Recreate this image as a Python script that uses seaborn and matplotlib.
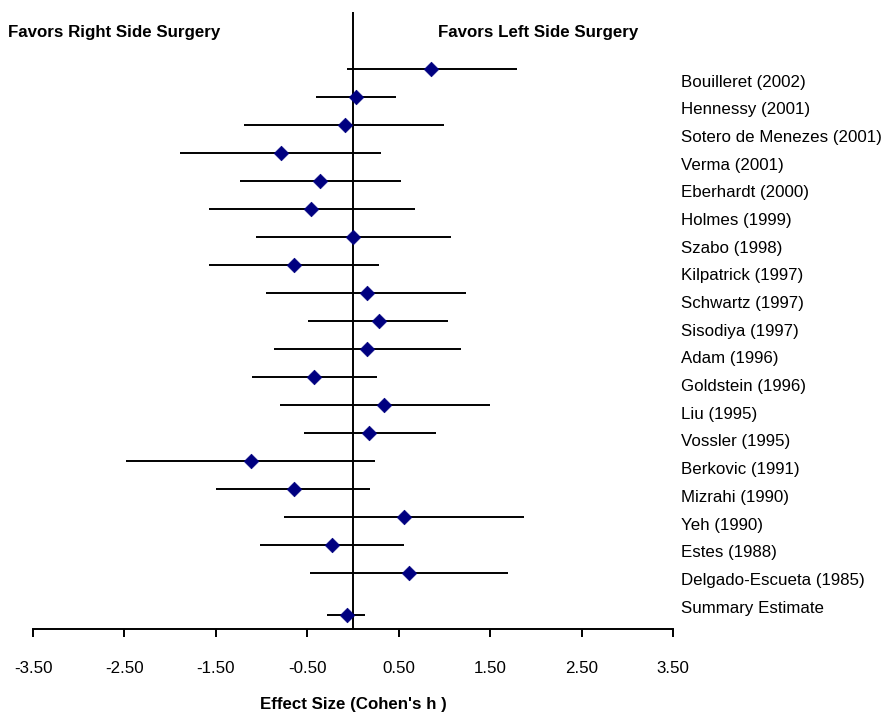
import matplotlib
matplotlib.use("Agg")
import matplotlib.pyplot as plt
import pandas as pd
import seaborn as sns
from matplotlib import font_manager

# values
studies = [
    "Bouilleret (2002)", "Hennessy (2001)", "Sotero de Menezes (2001)",
    "Verma (2001)", "Eberhardt (2000)", "Holmes (1999)", "Szabo (1998)",
    "Kilpatrick (1997)", "Schwartz (1997)", "Sisodiya (1997)", "Adam (1996)",
    "Goldstein (1996)", "Liu (1995)", "Vossler (1995)", "Berkovic (1991)",
    "Mizrahi (1990)", "Yeh (1990)", "Estes (1988)", "Delgado-Escueta (1985)",
]
effect = [0.85, 0.03, -0.09, -0.79, -0.36, -0.46, 0.00, -0.64, 0.15, 0.28,
          0.15, -0.43, 0.34, 0.18, -1.12, -0.64, 0.56, -0.23, 0.61]
ci_low = [-0.07, -0.41, -1.19, -1.89, -1.24, -1.58, -1.06, -1.58, -0.95, -0.49,
          -0.86, -1.10, -0.80, -0.54, -2.48, -1.50, -0.75, -1.02, -0.47]
ci_high = [1.79, 0.47, 1.00, 0.31, 0.52, 0.68, 1.07, 0.28, 1.24, 1.04,
           1.18, 0.26, 1.50, 0.91, 0.24, 0.19, 1.87, 0.56, 1.70]

summary_label = "Summary Estimate"
summary_effect = -0.07
summary_low = -0.28
summary_high = 0.13

x_ticks = [-3.5, -2.5, -1.5, -0.5, 0.5, 1.5, 2.5, 3.5]

# font: narrow sans if available, otherwise a slightly smaller regular one
names = {f.name for f in font_manager.fontManager.ttflist}
if "Liberation Sans Narrow" in names:
    fam = ["Liberation Sans Narrow", "DejaVu Sans"]
    fs = 14
else:
    fam = ["Liberation Sans", "DejaVu Sans"]
    fs = 12.2

sns.set_style("white")
plt.rcParams["font.family"] = fam
plt.rcParams["text.color"] = "black"
plt.rcParams["axes.labelcolor"] = "black"
plt.rcParams["xtick.color"] = "black"
plt.rcParams["ytick.color"] = "black"

df = pd.DataFrame({"study": studies, "effect": effect,
                   "lo": ci_low, "hi": ci_high})
df["row"] = range(len(df))
summary_row = len(df) + 0.5
df = pd.concat([df, pd.DataFrame({"study": [summary_label],
                                  "effect": [summary_effect],
                                  "lo": [summary_low], "hi": [summary_high],
                                  "row": [summary_row]})], ignore_index=True)

fig = plt.figure(figsize=(8.95, 7.14), dpi=100)
ax = fig.add_axes([33 / 895, (714 - 629) / 714, 640 / 895, 617 / 714])

ax.hlines(df["row"], df["lo"], df["hi"], color="black", lw=1.4, zorder=2)
ax.axvline(0, color="black", lw=1.4, zorder=1)
sns.scatterplot(data=df, x="effect", y="row", marker="D", s=55,
                color="#000080", edgecolor="#000080", linewidth=0.5,
                ax=ax, zorder=3, legend=False)

ax.set_xlim(-3.5, 3.5)
ax.set_ylim(20.0, -2.04)
ax.set_xticks(x_ticks)
ax.set_xticklabels([f"{t:.2f}" for t in x_ticks], fontsize=fs)
ax.tick_params(axis="x", direction="out", length=6, width=1.4, pad=17,
               bottom=True, color="black", labelcolor="black")
ax.set_yticks([])
ax.set_ylabel("")
ax.set_xlabel("Effect Size (Cohen's h )", fontsize=fs, fontweight="bold",
              labelpad=15, color="black")
for side in ["left", "top", "right"]:
    ax.spines[side].set_visible(False)
ax.spines["bottom"].set_linewidth(1.4)
ax.spines["bottom"].set_color("black")

# study names on the right, evenly spaced
ax2 = ax.twinx()
ax2.set_ylim(19.81, -2.48)
ax2.set_yticks(range(len(df)))
ax2.set_yticklabels(df["study"], fontsize=fs, color="black")
ax2.tick_params(axis="y", length=0, pad=6)
for side in ["left", "top", "right", "bottom"]:
    ax2.spines[side].set_visible(False)

fig.text(8 / 895, 1 - 32 / 714, "Favors Right Side Surgery", fontsize=fs,
         fontweight="bold", va="center", ha="left", color="black")
fig.text(438 / 895, 1 - 32 / 714, "Favors Left Side Surgery", fontsize=fs,
         fontweight="bold", va="center", ha="left", color="black")

fig.savefig("out.png", dpi=100)
